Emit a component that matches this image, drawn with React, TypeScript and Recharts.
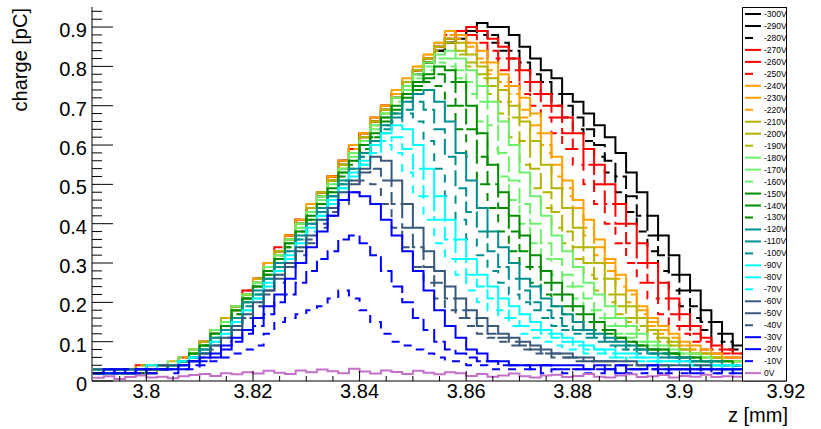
import { LineChart, Line, XAxis, YAxis } from "recharts";

// bin lower edges in z [mm], bin width 0.002 (last entry closes the last bin)
const zEdges = [
  3.79, 3.792, 3.794, 3.796, 3.798, 3.8, 3.802, 3.804, 3.806, 3.808,
  3.81, 3.812, 3.814, 3.816, 3.818, 3.82, 3.822, 3.824, 3.826, 3.828,
  3.83, 3.832, 3.834, 3.836, 3.838, 3.84, 3.842, 3.844, 3.846, 3.848,
  3.85, 3.852, 3.854, 3.856, 3.858, 3.86, 3.862, 3.864, 3.866, 3.868,
  3.87, 3.872, 3.874, 3.876, 3.878, 3.88, 3.882, 3.884, 3.886, 3.888,
  3.89, 3.892, 3.894, 3.896, 3.898, 3.9, 3.902, 3.904, 3.906, 3.908,
  3.91, 3.912,
];

// charge [pC] per bin, one array per bias voltage
const q300 = [.02,.03,.02,.03,.02,.03,.03,.04,.05,.07, .09,.12,.15,.19,.22,.26,.29,.33,.37,.40, .44,.48,.52,.55,.59,.63,.66,.69,.72,.75, .78,.81,.84,.86,.87,.89,.91,.90,.90,.88, .85,.82,.79,.77,.73,.71,.68,.65,.62,.58, .53,.48,.42,.37,.32,.27,.23,.18,.15,.12,.09];
const q290 = [.03,.02,.03,.02,.03,.03,.04,.04,.05,.07, .10,.12,.16,.18,.22,.25,.30,.33,.36,.41, .44,.48,.51,.56,.59,.62,.66,.70,.72,.76, .79,.81,.84,.86,.88,.89,.89,.88,.86,.84, .81,.78,.76,.73,.70,.67,.64,.60,.56,.52, .47,.42,.37,.32,.27,.23,.19,.15,.12,.10,.08];
const q280 = [.02,.03,.03,.02,.03,.02,.03,.04,.05,.08, .09,.13,.15,.19,.21,.26,.29,.32,.37,.40, .45,.47,.52,.56,.58,.63,.66,.69,.73,.75, .78,.81,.84,.86,.88,.89,.88,.86,.84,.82, .79,.76,.73,.70,.67,.64,.61,.57,.53,.48, .43,.38,.33,.28,.23,.19,.16,.13,.10,.08,.07];
const q270 = [.03,.02,.02,.03,.04,.03,.03,.04,.06,.07, .10,.12,.16,.19,.23,.26,.30,.33,.37,.41, .44,.48,.52,.56,.60,.63,.67,.70,.73,.76, .79,.82,.85,.87,.89,.90,.89,.87,.85,.82, .79,.76,.73,.70,.67,.63,.59,.55,.50,.45, .40,.35,.30,.25,.21,.17,.14,.11,.09,.08,.07];
const q260 = [.02,.03,.03,.02,.03,.04,.03,.04,.05,.08, .10,.13,.15,.19,.22,.26,.29,.34,.37,.40, .45,.48,.52,.55,.59,.63,.66,.70,.73,.76, .79,.82,.85,.87,.89,.88,.86,.84,.82,.79, .76,.73,.70,.67,.63,.59,.55,.50,.45,.40, .35,.30,.25,.21,.17,.14,.12,.10,.08,.07,.06];
const q250 = [.03,.02,.03,.03,.02,.03,.04,.03,.06,.07, .09,.12,.16,.18,.23,.25,.29,.33,.36,.41, .44,.47,.52,.56,.59,.62,.66,.69,.73,.76, .79,.82,.85,.88,.87,.86,.84,.82,.79,.76, .73,.70,.67,.63,.59,.55,.50,.45,.40,.35, .30,.25,.21,.17,.14,.12,.10,.08,.07,.06,.06];
const q240 = [.02,.03,.02,.03,.03,.03,.04,.04,.05,.08, .10,.13,.16,.19,.22,.26,.30,.33,.37,.41, .45,.48,.52,.56,.60,.63,.67,.70,.74,.77, .80,.83,.86,.89,.88,.86,.84,.81,.78,.75, .72,.68,.63,.57,.51,.46,.41,.36,.31,.27, .23,.19,.16,.14,.12,.10,.09,.08,.07,.06,.06];
const q230 = [.03,.02,.03,.02,.03,.04,.03,.04,.06,.07, .10,.12,.15,.19,.22,.26,.29,.33,.37,.40, .44,.48,.52,.55,.59,.63,.66,.70,.73,.76, .80,.83,.86,.88,.87,.85,.82,.79,.76,.73, .69,.65,.60,.55,.49,.44,.39,.34,.30,.26, .22,.18,.15,.13,.11,.09,.08,.07,.06,.06,.05];
const q220 = [.02,.03,.03,.03,.02,.03,.03,.05,.05,.07, .09,.13,.15,.18,.22,.25,.30,.33,.36,.40, .44,.47,.51,.55,.59,.62,.66,.69,.73,.76, .79,.82,.85,.87,.86,.84,.81,.78,.75,.71, .67,.63,.58,.52,.47,.42,.37,.32,.28,.24, .20,.17,.14,.12,.10,.09,.08,.07,.06,.05,.05];
const q210 = [.03,.02,.03,.03,.03,.02,.04,.04,.05,.07, .10,.12,.15,.19,.22,.25,.29,.33,.36,.40, .44,.48,.51,.55,.58,.62,.66,.69,.72,.76, .79,.82,.85,.87,.86,.83,.80,.77,.74,.70, .66,.61,.55,.49,.44,.39,.34,.30,.26,.22, .19,.16,.13,.11,.10,.08,.07,.07,.06,.05,.05];
const q200 = [.02,.03,.02,.03,.04,.03,.03,.04,.06,.07, .09,.12,.16,.18,.21,.26,.29,.32,.36,.40, .43,.47,.51,.55,.58,.62,.65,.69,.72,.75, .79,.82,.85,.86,.84,.81,.78,.75,.71,.67, .61,.54,.48,.43,.38,.34,.30,.26,.22,.19, .16,.14,.12,.10,.09,.08,.07,.06,.06,.05,.05];
const q190 = [.03,.03,.02,.03,.03,.04,.03,.04,.05,.07, .10,.12,.15,.18,.22,.25,.29,.32,.36,.39, .43,.47,.51,.54,.58,.61,.65,.68,.72,.75, .78,.81,.84,.86,.83,.80,.77,.73,.68,.62, .55,.49,.44,.39,.35,.31,.27,.23,.20,.17, .15,.13,.11,.10,.09,.08,.07,.06,.05,.05,.05];
const q180 = [.02,.03,.03,.02,.03,.03,.04,.04,.05,.08, .09,.13,.15,.19,.22,.25,.29,.32,.36,.40, .43,.47,.50,.54,.58,.61,.65,.68,.72,.75, .78,.81,.83,.84,.82,.79,.75,.71,.66,.60, .53,.47,.42,.37,.33,.29,.25,.22,.19,.16, .14,.12,.10,.09,.08,.07,.07,.06,.05,.05,.05];
const q170 = [.03,.02,.03,.03,.02,.03,.03,.05,.05,.07, .09,.12,.15,.18,.21,.25,.28,.32,.35,.39, .43,.46,.50,.54,.57,.61,.64,.68,.71,.74, .77,.80,.82,.82,.79,.76,.71,.65,.58,.51, .45,.40,.35,.31,.27,.24,.21,.18,.16,.14, .12,.10,.09,.08,.07,.07,.06,.06,.05,.05,.04];
const q160 = [.02,.03,.02,.03,.03,.04,.03,.04,.06,.07, .09,.12,.15,.18,.21,.24,.28,.31,.35,.39, .42,.46,.50,.53,.57,.60,.64,.67,.70,.74, .77,.79,.81,.80,.77,.73,.66,.59,.52,.46, .40,.35,.31,.27,.24,.21,.18,.16,.14,.12, .11,.10,.09,.08,.07,.06,.06,.05,.05,.05,.04];
const q150 = [.03,.02,.03,.02,.03,.03,.03,.04,.05,.07, .09,.12,.14,.18,.21,.24,.28,.31,.35,.38, .42,.45,.49,.53,.56,.60,.63,.67,.70,.73, .76,.78,.80,.79,.76,.70,.63,.55,.48,.42, .37,.32,.28,.25,.22,.19,.17,.15,.13,.11, .10,.09,.08,.08,.07,.06,.06,.05,.05,.05,.04];
const q140 = [.02,.03,.03,.03,.02,.03,.04,.04,.05,.06, .09,.11,.14,.17,.21,.24,.27,.31,.34,.38, .41,.45,.48,.52,.56,.59,.62,.66,.69,.72, .75,.77,.78,.76,.70,.64,.57,.50,.44,.38, .33,.29,.25,.22,.19,.17,.15,.13,.12,.11, .10,.09,.08,.07,.07,.06,.06,.05,.05,.04,.04];
const q130 = [.03,.02,.03,.02,.03,.04,.03,.04,.05,.07, .08,.11,.14,.17,.20,.23,.27,.30,.34,.37, .41,.44,.48,.51,.55,.58,.62,.65,.68,.71, .74,.76,.75,.70,.64,.57,.50,.44,.38,.33, .29,.25,.22,.19,.17,.15,.13,.12,.11,.10, .09,.08,.08,.07,.06,.06,.05,.05,.05,.04,.04];
const q120 = [.02,.03,.02,.03,.03,.03,.04,.04,.05,.06, .08,.11,.13,.16,.20,.23,.26,.30,.33,.37, .40,.44,.47,.51,.54,.58,.61,.65,.68,.71, .73,.74,.71,.66,.58,.51,.44,.38,.34,.30, .26,.24,.21,.19,.17,.15,.13,.12,.11,.10, .09,.08,.07,.07,.06,.06,.05,.05,.05,.04,.04];
const q110 = [.03,.02,.03,.03,.02,.03,.03,.04,.05,.06, .08,.10,.13,.16,.19,.22,.26,.29,.33,.36, .40,.43,.47,.50,.54,.57,.61,.64,.67,.69, .71,.69,.64,.57,.49,.43,.38,.33,.29,.26, .23,.20,.18,.16,.14,.13,.12,.11,.10,.09, .08,.08,.07,.06,.06,.05,.05,.05,.04,.04,.04];
const q100 = [.02,.03,.03,.02,.03,.04,.03,.04,.05,.06, .08,.10,.12,.15,.19,.22,.25,.29,.32,.36, .39,.43,.46,.50,.53,.57,.60,.63,.66,.68, .66,.61,.54,.47,.41,.36,.32,.28,.25,.22, .20,.18,.16,.14,.13,.12,.11,.10,.09,.08, .08,.07,.07,.06,.06,.05,.05,.05,.04,.04,.04];
const q90 = [.03,.02,.03,.02,.03,.03,.03,.04,.04,.06, .07,.10,.12,.15,.18,.21,.25,.28,.32,.35, .39,.42,.46,.49,.53,.56,.60,.63,.65,.64, .60,.54,.47,.41,.36,.31,.27,.24,.21,.19, .17,.15,.13,.12,.11,.10,.09,.08,.08,.07, .07,.06,.06,.05,.05,.05,.04,.04,.04,.04,.04];
const q80 = [.02,.03,.02,.03,.03,.04,.03,.04,.05,.05, .07,.09,.12,.15,.18,.21,.24,.28,.31,.35, .38,.42,.45,.49,.52,.55,.58,.61,.62,.59, .54,.47,.41,.36,.31,.27,.24,.21,.18,.16, .14,.13,.12,.11,.10,.09,.08,.08,.07,.06, .06,.06,.05,.05,.05,.04,.04,.04,.04,.03,.04];
const q70 = [.03,.02,.03,.03,.02,.03,.04,.03,.05,.06, .07,.09,.11,.14,.17,.20,.24,.27,.31,.34, .38,.41,.45,.48,.51,.55,.58,.60,.58,.53, .47,.41,.35,.31,.27,.23,.20,.18,.16,.14, .12,.11,.10,.09,.08,.08,.07,.07,.06,.06, .05,.05,.05,.04,.04,.04,.04,.03,.04,.03,.03];
const q60 = [.02,.03,.02,.03,.03,.03,.03,.04,.04,.05, .07,.09,.11,.14,.17,.20,.23,.27,.30,.34, .37,.41,.44,.48,.51,.54,.57,.56,.51,.45, .39,.33,.28,.24,.21,.18,.16,.14,.12,.11, .10,.09,.08,.07,.07,.06,.06,.05,.05,.05, .05,.04,.04,.04,.04,.04,.03,.04,.03,.03,.03];
const q50 = [.03,.02,.03,.02,.03,.03,.04,.03,.04,.05, .07,.09,.11,.13,.16,.19,.23,.26,.29,.33, .36,.40,.43,.46,.50,.53,.54,.51,.45,.39, .34,.29,.25,.21,.18,.16,.14,.12,.11,.10, .09,.08,.07,.07,.06,.06,.05,.05,.05,.04, .04,.04,.04,.04,.03,.03,.04,.03,.03,.03,.03];
const q40 = [.02,.03,.03,.02,.03,.03,.03,.04,.04,.05, .06,.08,.10,.13,.16,.19,.22,.25,.29,.32, .35,.39,.42,.45,.48,.51,.50,.45,.39,.34, .29,.25,.21,.18,.16,.14,.12,.11,.10,.09, .08,.07,.07,.06,.06,.05,.05,.05,.04,.04, .04,.04,.04,.03,.03,.03,.03,.03,.03,.03,.03];
const q30 = [.02,.03,.02,.02,.03,.03,.03,.03,.04,.05, .06,.07,.09,.11,.13,.16,.19,.22,.26,.30, .34,.38,.42,.46,.48,.47,.45,.41,.37,.33, .28,.23,.18,.14,.11,.08,.07,.05,.05,.04, .04,.04,.04,.04,.04,.04,.03,.04,.03,.04, .03,.03,.04,.03,.03,.03,.03,.03,.03,.03,.03];
const q20 = [.02,.02,.03,.02,.03,.02,.03,.03,.03,.04, .05,.06,.08,.10,.12,.14,.17,.20,.22,.25, .28,.31,.33,.36,.37,.35,.32,.28,.24,.20, .16,.13,.10,.08,.07,.06,.05,.05,.04,.04, .04,.03,.04,.03,.03,.03,.03,.03,.03,.02, .03,.03,.03,.02,.03,.03,.02,.03,.02,.03,.02];
const q10 = [.02,.02,.02,.03,.02,.02,.03,.02,.03,.03, .04,.05,.06,.07,.08,.09,.12,.15,.16,.17, .18,.19,.21,.23,.21,.18,.15,.12,.10,.09, .08,.07,.06,.05,.05,.04,.04,.03,.03,.03, .03,.03,.02,.03,.02,.03,.02,.02,.03,.02, .02,.02,.03,.02,.02,.02,.02,.02,.02,.02,.02];
const q0 = [.008,.012,.005,.010,.014,.009,.011,.007,.012,.015, .018,.013,.020,.017,.022,.019,.026,.021,.018,.027, .022,.029,.025,.020,.031,.024,.019,.027,.023,.018, .026,.021,.017,.022,.020,.013,.018,.011,.014,.019, .012,.009,.014,.016,.010,.013,.018,.011,.009,.014, .017,.010,.012,.015,.009,.013,.011,.016,.010,.012,.011];

const voltageLabels = [
  "-300V", "-290V", "-280V", "-270V", "-260V", "-250V", "-240V", "-230V",
  "-220V", "-210V", "-200V", "-190V", "-180V", "-170V", "-160V", "-150V",
  "-140V", "-130V", "-120V", "-110V", "-100V", "-90V", "-80V", "-70V",
  "-60V", "-50V", "-40V", "-30V", "-20V", "-10V", "0V",
];
const seriesValues = [
  q300, q290, q280, q270, q260, q250, q240, q230, q220, q210, q200,
  q190, q180, q170, q160, q150, q140, q130, q120, q110, q100, q90,
  q80, q70, q60, q50, q40, q30, q20, q10, q0,
];

const xMajorTicks = [3.8, 3.82, 3.84, 3.86, 3.88, 3.9, 3.92];
const xMinorTicks = [
  3.795, 3.805, 3.81, 3.815, 3.825, 3.83, 3.835, 3.845, 3.85, 3.855,
  3.865, 3.87, 3.875, 3.885, 3.89, 3.895, 3.905, 3.91, 3.915,
];
const yMajorTicks = [0, 0.1, 0.2, 0.3, 0.4, 0.5, 0.6, 0.7, 0.8, 0.9];
const yMinorTicks = [
  0.02, 0.04, 0.06, 0.08, 0.12, 0.14, 0.16, 0.18, 0.22, 0.24, 0.26, 0.28,
  0.32, 0.34, 0.36, 0.38, 0.42, 0.44, 0.46, 0.48, 0.52, 0.54, 0.56, 0.58,
  0.62, 0.64, 0.66, 0.68, 0.72, 0.74, 0.76, 0.78, 0.82, 0.84, 0.86, 0.88,
  0.92, 0.94,
];

// colour per group of three voltages, line style repeats solid / dashed / short dash
const groupColors = [
  "#000000", "#ff0000", "#ffa200", "#b3b300", "#6cf06c",
  "#008c00", "#008f8f", "#00ffff", "#38597c", "#0000ff", "#c46fc8",
];
const dashes = [undefined, "16 5", "8 8"];

const series = voltageLabels.map((label, k) => ({
  key: "s" + k,
  label,
  color: groupColors[Math.floor(k / 3)],
  dash: dashes[k % 3],
  values: seriesValues[k],
}));

const rows = zEdges.map((z, i) => {
  const row: Record<string, number> = { z };
  series.forEach((s) => {
    row[s.key] = s.values[Math.min(i, s.values.length - 1)];
  });
  return row;
});

const FONT = "'Liberation Sans', Arial, Helvetica, sans-serif";
const X_DOMAIN: [number, number] = [3.7898, 3.92];
const Y_DOMAIN: [number, number] = [0, 0.951];

const isMajor = (list: number[], v: number) =>
  list.some((m) => Math.abs(m - v) < 1e-9);

function BottomTick(props: any) {
  const { x, y, payload } = props;
  const major = isMajor(xMajorTicks, payload.value);
  return (
    <g>
      <line x1={x} y1={y} x2={x} y2={y - (major ? 10 : 5)} stroke="#000" />
      {major && (
        <text x={x} y={y + 17} textAnchor="middle" fontSize={20} fontFamily={FONT} fill="#000">
          {String(payload.value)}
        </text>
      )}
    </g>
  );
}

function TopTick(props: any) {
  const { x, y, payload } = props;
  const major = isMajor(xMajorTicks, payload.value);
  return <line x1={x} y1={y} x2={x} y2={y + (major ? 11 : 5)} stroke="#000" />;
}

function LeftTick(props: any) {
  const { x, y, payload } = props;
  const major = isMajor(yMajorTicks, payload.value);
  return (
    <g>
      <line x1={x} y1={y} x2={x + (major ? 21 : 10)} y2={y} stroke="#000" />
      {major && (
        <text x={x - 5} y={y + 10} textAnchor="end" fontSize={20} fontFamily={FONT} fill="#000">
          {String(payload.value)}
        </text>
      )}
    </g>
  );
}

export default function App() {
  const rowH = 11.97;
  return (
    <div style={{ position: "absolute", left: 0, top: 0, width: 821, height: 429, background: "#fff", fontFamily: FONT }}>
      <LineChart width={821} height={429} data={rows} margin={{ top: 7, right: 35, bottom: 0, left: 0 }}>
        <XAxis
          xAxisId="z"
          dataKey="z"
          type="number"
          domain={X_DOMAIN}
          allowDataOverflow
          ticks={[...xMajorTicks, ...xMinorTicks]}
          interval={0}
          tickSize={0}
          tickMargin={0}
          height={48}
          tickLine={false}
          axisLine={{ stroke: "#000" }}
          tick={(p: any) => <BottomTick {...p} />}
        />
        <XAxis
          xAxisId="top"
          orientation="top"
          dataKey="z"
          type="number"
          domain={X_DOMAIN}
          allowDataOverflow
          ticks={[...xMajorTicks, ...xMinorTicks]}
          interval={0}
          tickSize={0}
          tickMargin={0}
          height={0}
          tickLine={false}
          axisLine={{ stroke: "#000" }}
          tick={(p: any) => <TopTick {...p} />}
        />
        <YAxis
          yAxisId="q"
          type="number"
          domain={Y_DOMAIN}
          allowDataOverflow
          ticks={[...yMajorTicks, ...yMinorTicks]}
          interval={0}
          tickSize={0}
          tickMargin={0}
          width={92}
          tickLine={false}
          axisLine={{ stroke: "#000" }}
          tick={(p: any) => <LeftTick {...p} />}
        />
        <YAxis
          yAxisId="right"
          orientation="right"
          type="number"
          domain={Y_DOMAIN}
          width={0}
          tick={false}
          tickLine={false}
          axisLine={{ stroke: "#000" }}
        />
        {series.map((s) => (
          <Line
            key={s.key}
            xAxisId="z"
            yAxisId="q"
            type="stepAfter"
            dataKey={s.key}
            stroke={s.color}
            strokeWidth={2}
            strokeDasharray={s.dash}
            strokeLinecap="butt"
            dot={false}
            activeDot={false}
            isAnimationActive={false}
          />
        ))}
      </LineChart>

      <svg width={821} height={429} style={{ position: "absolute", left: 0, top: 0, pointerEvents: "none" }}>
        <text transform="translate(27,8) rotate(-90)" textAnchor="end" fontSize={20} fontFamily={FONT} fill="#000">
          charge [pC]
        </text>
        <text x={788} y={422} textAnchor="end" fontSize={20} fontFamily={FONT} fill="#000">
          z [mm]
        </text>
        <rect x={742.5} y={7.5} width={44} height={373.5} fill="#fff" stroke="#000" strokeWidth={1} />
        {series.map((s, k) => {
          const cy = 14 + k * rowH;
          return (
            <g key={s.key}>
              <line x1={745} x2={761} y1={cy} y2={cy} stroke={s.color} strokeWidth={2} strokeDasharray={s.dash} />
              <text x={764} y={cy + 3} fontSize={8.5} fontFamily={FONT} fill="#000">
                {s.label}
              </text>
            </g>
          );
        })}
      </svg>
    </div>
  );
}
